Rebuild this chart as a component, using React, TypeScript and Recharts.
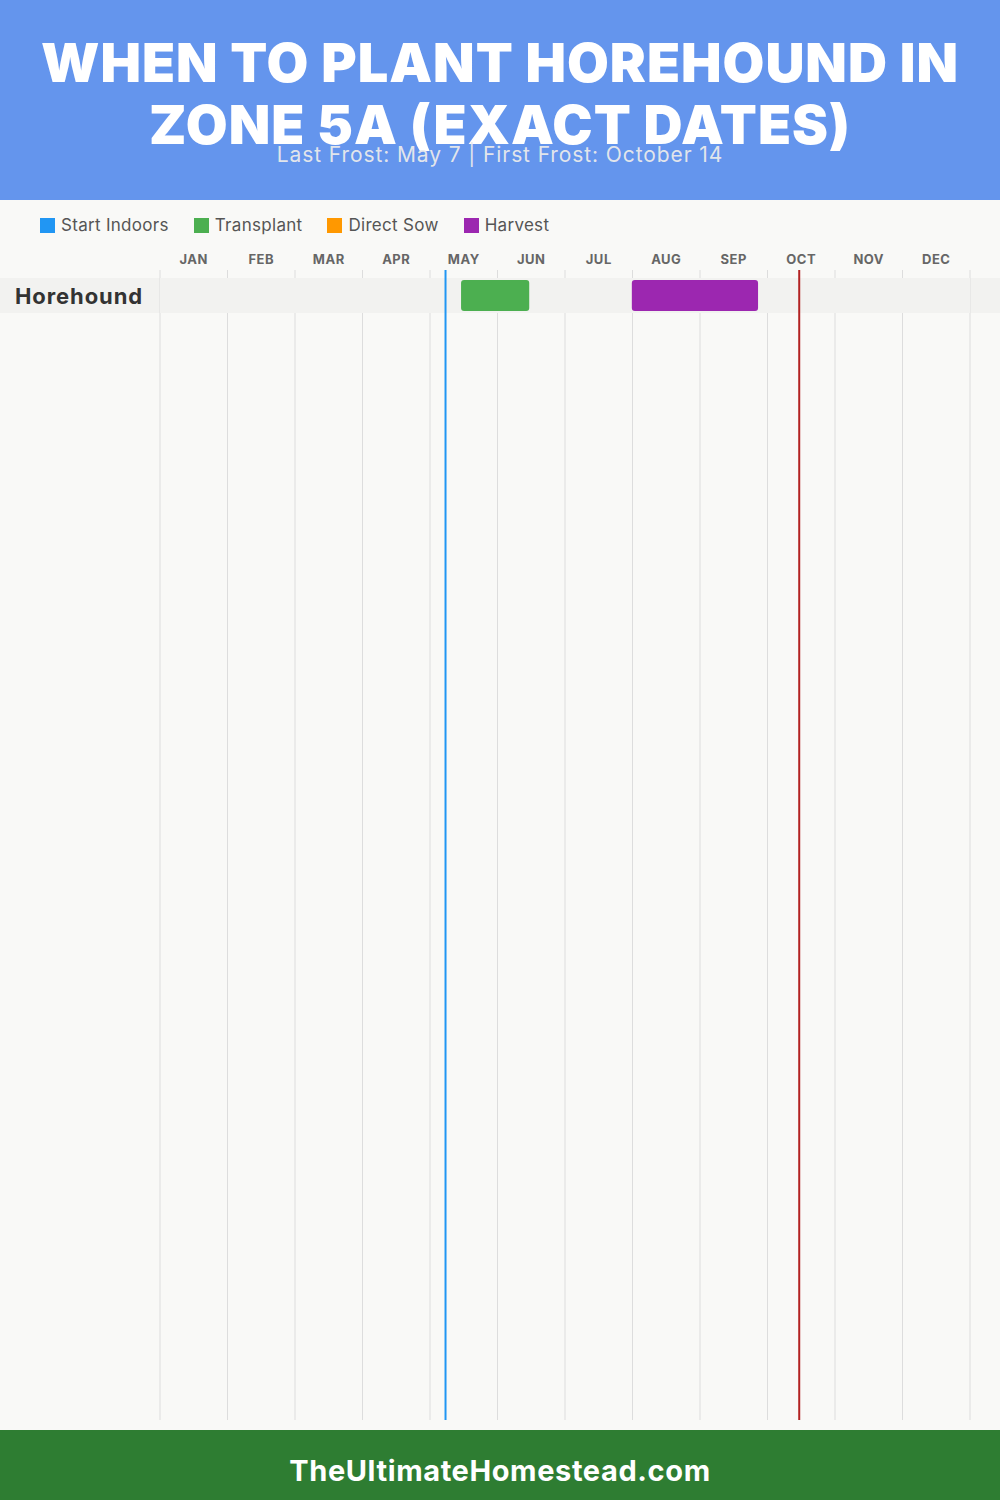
import React from 'react'
import {
  ComposedChart,
  Bar,
  XAxis,
  YAxis,
  CartesianGrid,
  ReferenceLine,
  ReferenceArea,
} from 'recharts'

const MONTHS = ['JAN', 'FEB', 'MAR', 'APR', 'MAY', 'JUN', 'JUL', 'AUG', 'SEP', 'OCT', 'NOV', 'DEC']
const MONTH_CENTERS = [0.5, 1.5, 2.5, 3.5, 4.5, 5.5, 6.5, 7.5, 8.5, 9.5, 10.5, 11.5]
const MONTH_EDGES = [0, 1, 2, 3, 4, 5, 6, 7, 8, 9, 10, 11, 12]

const CROPS = ['Horehound']
// month index + fraction of month
const TRANSPLANT = [[4.46, 5.47]]
const HARVEST = [[6.99, 8.86]]

const LAST_FROST = 4.23 // May 7
const FIRST_FROST = 9.47 // Oct 14

const LEGEND = [
  { name: 'Start Indoors', color: '#2196F3' },
  { name: 'Transplant', color: '#4CAF50' },
  { name: 'Direct Sow', color: '#FF9800' },
  { name: 'Harvest', color: '#9C27B0' },
]

const FONT = 'Inter, "Noto Sans", sans-serif'
const BAND = '#f2f2f0'

const data = CROPS.map((name, i) => ({
  name,
  transplant: TRANSPLANT[i],
  harvest: HARVEST[i],
}))

function CropTick({ y, payload }: any) {
  return (
    <text
      x={15}
      y={y}
      dy={8}
      textAnchor="start"
      fontSize={22}
      fontWeight={700}
      fill="#333"
      letterSpacing={0.9}
      fontFamily={FONT}
    >
      {payload.value}
    </text>
  )
}

export default function App() {
  return (
    <div style={{ position: 'relative', width: 1000, height: 1500, background: '#f9f9f7', fontFamily: FONT, overflow: 'hidden' }}>
      <style>{'body{margin:0}'}</style>

      {/* header */}
      <div style={{ position: 'absolute', left: 0, top: 0, width: 1000, height: 200, background: '#6495ED' }}>
        <div
          style={{
            position: 'absolute',
            top: 32,
            width: 1000,
            textAlign: 'center',
            color: '#fff',
            fontSize: 54,
            fontWeight: 900,
            lineHeight: '62px',
            letterSpacing: 1,
          }}
        >
          WHEN TO PLANT HOREHOUND IN
          <br />
          ZONE 5A (EXACT DATES)
        </div>
        <div
          style={{
            position: 'absolute',
            top: 142,
            width: 1000,
            textAlign: 'center',
            color: 'rgba(235,235,235,0.95)',
            fontSize: 21,
            lineHeight: '26px',
            letterSpacing: 0.9,
          }}
        >
          Last Frost: May 7 | First Frost: October 14
        </div>
      </div>

      {/* legend */}
      <div style={{ position: 'absolute', top: 214, left: 40, display: 'flex', gap: 25, alignItems: 'center' }}>
        {LEGEND.map((l) => (
          <div key={l.name} style={{ display: 'flex', alignItems: 'center', gap: 6 }}>
            <div style={{ width: 15, height: 15, background: l.color }} />
            <span style={{ fontSize: 17, color: '#555', lineHeight: '22px', letterSpacing: 0.3 }}>{l.name}</span>
          </div>
        ))}
      </div>

      {/* row background outside plot area */}
      <div style={{ position: 'absolute', left: 0, top: 278, width: 1000, height: 35, background: BAND }} />

      <div style={{ position: 'absolute', left: 0, top: 240 }}>
        <ComposedChart
          layout="vertical"
          width={1000}
          height={1190}
          data={data}
          margin={{ top: 0, right: 30, bottom: 10, left: 0 }}
        >
          <XAxis
            xAxisId="months"
            type="number"
            orientation="top"
            domain={[0, 12]}
            ticks={MONTH_CENTERS}
            interval={0}
            height={30}
            axisLine={false}
            tickLine={false}
            tickSize={0}
            tickMargin={6}
            tickFormatter={(v: number) => MONTHS[Math.floor(v)]}
            tick={{ fontSize: 13, fontWeight: 700, fill: '#666', fontFamily: FONT, letterSpacing: 0.5 }}
          />
          <YAxis
            yAxisId="a"
            type="category"
            dataKey="name"
            width={160}
            padding={{ top: 8, bottom: 1107 }}
            axisLine={false}
            tickLine={false}
            tick={<CropTick />}
          />
          <YAxis yAxisId="b" type="category" dataKey="name" hide padding={{ top: 8, bottom: 1107 }} />
          <CartesianGrid
            xAxisId="months"
            yAxisId="a"
            horizontal={false}
            verticalValues={MONTH_EDGES}
            stroke="#dddddd"
          />
          <ReferenceArea xAxisId="months" yAxisId="a" y1="Horehound" y2="Horehound" fill={BAND} fillOpacity={1} stroke="none" />
          <Bar xAxisId="months" yAxisId="a" dataKey="transplant" fill="#4CAF50" barSize={31} radius={3} isAnimationActive={false} />
          <Bar xAxisId="months" yAxisId="b" dataKey="harvest" fill="#9C27B0" barSize={31} radius={3} isAnimationActive={false} />
          <ReferenceLine xAxisId="months" yAxisId="a" x={LAST_FROST} stroke="#2196F3" strokeWidth={2} />
          <ReferenceLine xAxisId="months" yAxisId="a" x={FIRST_FROST} stroke="#B22222" strokeWidth={2} />
        </ComposedChart>
      </div>

      {/* footer */}
      <div
        style={{
          position: 'absolute',
          top: 1430,
          left: 0,
          width: 1000,
          height: 70,
          background: '#2E7D32',
          color: '#fff',
          textAlign: 'center',
          fontSize: 29,
          fontWeight: 700,
          lineHeight: '82px',
          letterSpacing: 0.6,
        }}
      >
        TheUltimateHomestead.com
      </div>
    </div>
  )
}
